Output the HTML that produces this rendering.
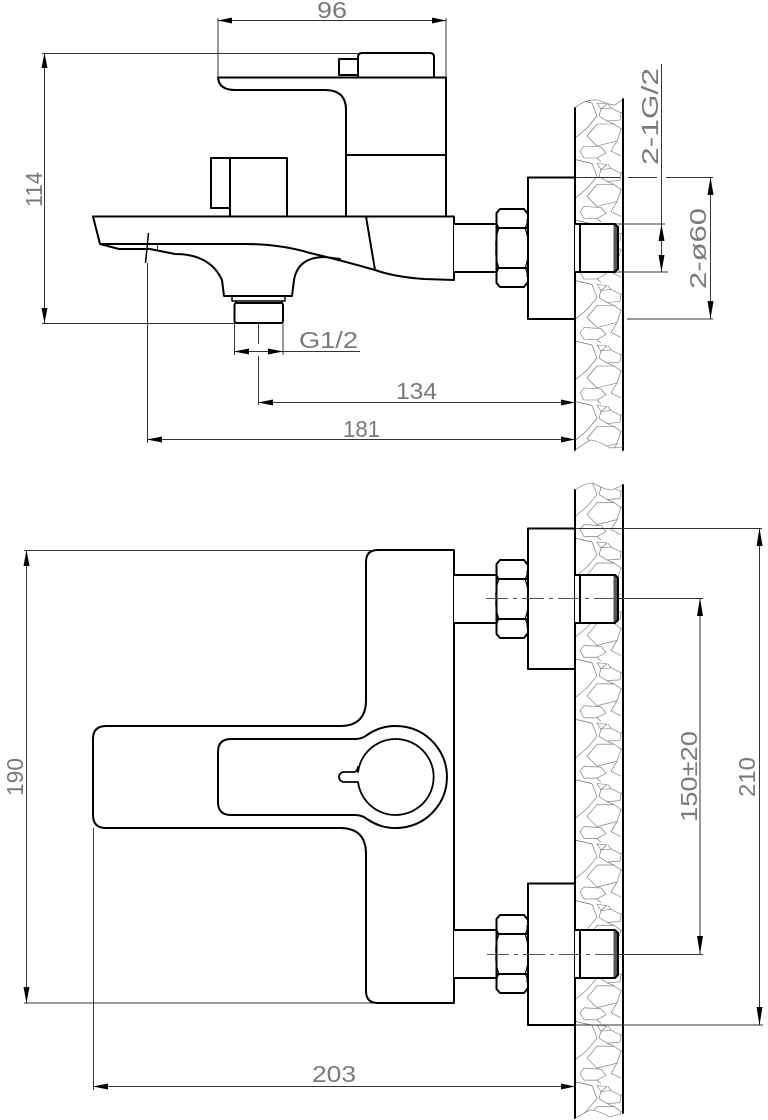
<!DOCTYPE html>
<html>
<head>
<meta charset="utf-8">
<style>
html,body{margin:0;padding:0;background:#fff;width:768px;height:1120px;overflow:hidden}
svg{display:block}
text{font-family:"Liberation Sans",sans-serif;font-size:23px;fill:#7a7a7a}
.o{fill:none;stroke:#000;stroke-width:2;stroke-linejoin:round;stroke-linecap:round}
.w{fill:#fff;stroke:#000;stroke-width:2;stroke-linejoin:round}
.d{fill:none;stroke:#333;stroke-width:1}
.c{fill:none;stroke:#555;stroke-width:1;stroke-dasharray:22 5 4 5}
.a{fill:#000;stroke:none}
.s{fill:none;stroke:#6a6a6a;stroke-width:.6;stroke-linejoin:round}
</style>
</head>
<body>
<svg xmlns="http://www.w3.org/2000/svg" width="768" height="1120" viewBox="0 0 768 1120">
<defs>
<g id="st">
<path class="s" d="M22 2L32 3L26 8Z"/>
<path class="s" d="M26 8L36 7L46 12L45 19L32 20L24 15Z"/>
<path class="s" d="M12 35L22 23L39 23L46 28L42 40L22 45Z"/>
<path class="s" d="M5 50L9 45L26 46L31 52L22 57L9 57Z"/>
<path class="s" d="M0 37L12 27L22 15L17 2L0 -2M0 58.5L17 62.5"/>
<path class="s" d="M42 40L36 50L46 55M22 57L26 60.5M39 23L32 20M46 12L48 10M36 7L33 3M46 28L48 28"/>
</g>
<pattern id="p1" patternUnits="userSpaceOnUse" x="575" y="343" width="48" height="60.5"><use href="#st"/><use href="#st" y="60.5"/><use href="#st" y="-60.5"/></pattern>
<pattern id="p2" patternUnits="userSpaceOnUse" x="575" y="540" width="48" height="60.4"><use href="#st"/><use href="#st" y="60.4"/><use href="#st" y="-60.4"/></pattern>
<g id="nut">
<path d="M454 -24H497V24H454Z" fill="#fff"/>
<path class="o" d="M454 -24H497M454 24H497"/>
<path class="o" d="M500 -39H524L528 -34V34L524 39H500L496.500 35V-35Z" fill="#fff" style="fill:#fff"/>
<path class="o" d="M497 -20H527M497 20H527"/>
<path class="o" d="M497 -28Q496 -24 499 -20Q495 -10 496 0Q495 10 499 20Q496 24 497 28" style="stroke-width:1.200"/>
<path class="o" d="M527 -28Q528 -24 525 -20Q529 -10 528 0Q529 10 525 20Q528 24 527 28" style="stroke-width:1.200"/>
</g>
<g id="fit">
<rect x="575" y="-24" width="43" height="48" fill="#fff"/>
<path d="M613.500 -23.500H617.500V23.500H613.500Z" fill="#555"/>
<path class="o" d="M575 -24H615L618 -21V21L615 24H575M580 -24V24"/>
</g>
</defs>

<!-- ========= side view ========= -->
<path d="M575 108Q585 99 598 100Q610 105 615 105L623 99V450L610 448Q597 440 590 440L575 450Z" fill="url(#p1)"/>
<path class="o" d="M575 108V450M623 99V450"/>
<path class="s" d="M575 108Q585 99 598 100Q610 105 615 105L623 99M575 450L590 440Q597 440 610 448L623 447"/>

<!-- dims side -->
<path class="d" d="M218 18V77M446 18V80M218 20.500H446"/>
<path class="a" d="M218 20.500L232 17.500V23.500ZM446 20.500L432 17.500V23.500Z"/>
<path class="d" d="M42 53.500H358M42 323.500H234M44.500 53V323"/>
<path class="a" d="M44.500 53L41.500 68H47.500ZM44.500 323L41.500 308H47.500Z"/>
<path class="d" d="M234.500 323V355M283 323V355M234 351.500H360"/>
<path class="a" d="M234 351.500L249 348.500V354.500ZM283 351.500L268 348.500V354.500Z"/>
<path class="d" d="M258.500 323V344M258.500 356V405M258 402.500H575"/>
<path class="a" d="M258 402.500L273 399.500V405.500ZM575 402.500L561 399.500V405.500Z"/>
<path class="d" d="M147.500 263V443M147 439.500H575"/>
<path class="a" d="M147 439.500L162 436.500V442.500ZM575 439.500L561 436.500V442.500Z"/>
<path d="M148.500 233L145.500 263" stroke="#000" stroke-width="1.500" fill="none"/>

<path class="d" d="M661.500 64V272M616 224H665M616 272H668"/>
<path class="a" d="M661.500 224L658.500 241H664.500ZM661.500 272L658.500 255H664.500Z"/>
<path class="d" d="M575 177.500H620M628 177.500H657M666 177.500H713M627 319H713M710.500 177V319"/>
<path class="a" d="M710.500 177L707.500 195H713.500ZM710.500 319L707.500 301H713.500Z"/>

<!-- faucet side -->
<path class="w" d="M339 59H358V75H339Z"/>
<path class="o" d="M358 77V57Q358 53 362 53H430Q434 53 434 57V77"/>
<path class="o" d="M218 77.500H446V216M218 77.500Q219 90 235 90H325Q346 90 346 110V216M346 155H446"/>
<path class="o" d="M211 158H230V208H211ZM230 158H287V216M230 158V216"/>
<path class="o" d="M93 216.500H454V280L424 279Q395 277 375 270Q340 260 310 253Q280 244 245 244H100L93 216.500M100 244L119 249H150L175 254Q210 254 222 280L224 296H292L294 280Q298 257 325 257L340 259"/>
<path class="o" d="M366 216.500L375 270"/>
<path class="d" d="M157.500 244V250"/>
<path class="o" d="M232 296H285V301H232ZM236 301V303H282V301" style="stroke-width:1.500"/>
<rect class="o" x="234.500" y="303" width="48.500" height="20" rx="2"/>
<rect class="o" x="528" y="177.500" width="47" height="141.500"/>
<use href="#nut" y="248"/>
<use href="#fit" y="248"/>

<!-- ========= front view ========= -->
<path d="M575 490Q585 483 593 483Q605 490 612 490L623 485V1113L610 1117Q597 1110 590 1110L575 1118Z" fill="url(#p2)"/>
<path class="o" d="M575 490V1118M623 485V1113"/>
<path class="s" d="M575 490Q585 483 593 483Q605 490 612 490L623 485M575 1118L590 1110Q597 1110 610 1117L623 1113"/>

<path class="d" d="M24 550.500H378M24 1003H378M26.500 550V1003"/>
<path class="a" d="M26.500 550L23.500 566H29.500ZM26.500 1003L23.500 987H29.500Z"/>
<path class="d" d="M93.500 828V1090M93 1086.500H575"/>
<path class="a" d="M93 1086.500L108 1083.500V1089.500ZM575 1086.500L561 1083.500V1089.500Z"/>
<path class="d" d="M575 528.500H762M575 1025H763M759.500 528V1025M615 598.500H703M700 598V954M615 954.500H703"/>
<path class="a" d="M759.500 528L756.500 546H762.500ZM759.500 1025L756.500 1007H762.500ZM700 598L697 616H703ZM700 954L697 936H703Z"/>

<path class="o" d="M454 550V1003H378Q366 1003 366 991V854Q366 828 340 828H106Q93 828 93 815V739Q93 726 106 726H340Q366 726 366 700V562Q366 550 378 550H454"/>
<path class="o" d="M231 739H355Q362 739 367 735A51 51 0 1 1 367 819Q362 815 355 815H231Q218 815 218 802V752Q218 739 231 739Z"/>
<path class="o" d="M358 772A38 38 0 1 1 358 782Q357 782 354 782H344A5 5 0 0 1 344 772H354Q357 772 358 767" style="stroke-width:1.800"/>

<rect class="o" x="528" y="528.500" width="47" height="140.500"/>
<use href="#nut" y="599"/>
<use href="#fit" y="599"/>
<rect class="o" x="528" y="883.500" width="47" height="141.500"/>
<use href="#nut" y="954"/>
<use href="#fit" y="954"/>
<path class="c" d="M486 598.500H616"/>
<path class="c" d="M487 954.500H616"/>

<!-- labels -->
<text x="317" y="18" textLength="30" lengthAdjust="spacingAndGlyphs">96</text>
<text transform="translate(42,207) rotate(-90)" textLength="35" lengthAdjust="spacingAndGlyphs">114</text>
<text x="299" y="348" textLength="59" lengthAdjust="spacingAndGlyphs">G1/2</text>
<text x="396" y="399" textLength="41" lengthAdjust="spacingAndGlyphs">134</text>
<text x="343" y="437" textLength="37" lengthAdjust="spacingAndGlyphs">181</text>
<text transform="translate(658,165) rotate(-90)" textLength="97" lengthAdjust="spacingAndGlyphs">2-1G/2</text>
<text transform="translate(706,289) rotate(-90)" textLength="81" lengthAdjust="spacingAndGlyphs">2-ø60</text>
<text transform="translate(23,796) rotate(-90)" textLength="38" lengthAdjust="spacingAndGlyphs">190</text>
<text x="312" y="1082" textLength="44" lengthAdjust="spacingAndGlyphs">203</text>
<text transform="translate(697,822) rotate(-90)" textLength="91" lengthAdjust="spacingAndGlyphs">150±20</text>
<text transform="translate(755,797) rotate(-90)" textLength="40" lengthAdjust="spacingAndGlyphs">210</text>
</svg>
</body>
</html>
